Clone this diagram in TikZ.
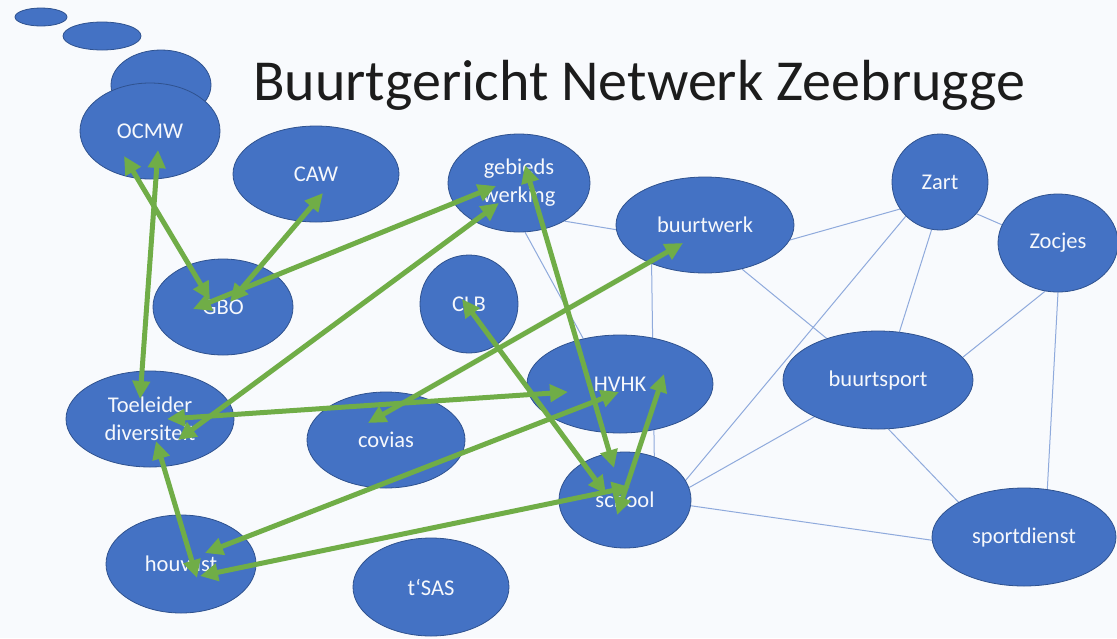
\documentclass[tikz,border=0pt]{standalone}
\usepackage{fontspec}
\setmainfont{Carlito}
\usetikzlibrary{shapes.geometric,arrows.meta}
\definecolor{bg}{RGB}{248,250,253}
\definecolor{nodeblue}{RGB}{68,114,196}
\definecolor{nodeedge}{RGB}{47,82,143}
\definecolor{linkblue}{RGB}{143,170,220}
\definecolor{arrowgreen}{RGB}{112,173,71}
\pgfdeclarelayer{back}
\pgfsetlayers{back,main}
\begin{document}
\begin{tikzpicture}[x=1pt,y=-1pt,
  bubble/.style={ellipse,fill=nodeblue,draw=nodeedge,line width=0.8pt,inner sep=0pt,
    text={rgb,255:red,246;green,248;blue,252},font=\fontsize{22.5}{28}\selectfont,align=center},
  link/.style={draw=linkblue,line width=1pt},
  tie/.style={draw=arrowgreen,line width=5pt,
    {Triangle[length=18pt,width=17pt]}-{Triangle[length=18pt,width=17pt]}}]
\useasboundingbox (0,0) rectangle (1117,638);
% decorative bubbles
\node[bubble,minimum width=52pt,minimum height=18pt] (bub1) at (41,17) {};
\node[bubble,minimum width=78pt,minimum height=28pt] (bub2) at (102,36) {};
\node[bubble,minimum width=100pt,minimum height=70pt] (bub3) at (161,85) {};
% title
\node[anchor=base west,inner sep=0pt,font=\fontsize{58}{62}\selectfont,text={rgb,255:red,28;green,28;blue,28}] (title) at (253,100) {Buurtgericht Netwerk Zeebrugge};
% nodes
\node[bubble,minimum width=140pt,minimum height=96pt] (ocmw) at (150,131) {OCMW};
\node[bubble,minimum width=166pt,minimum height=96pt] (caw) at (316,174) {CAW};
\node[bubble,minimum width=142pt,minimum height=98pt] (geb) at (519,183) {gebieds\\werking};
\node[bubble,minimum width=140pt,minimum height=96pt] (gbo) at (223,307) {GBO};
\node[bubble,minimum width=98pt,minimum height=98pt] (clb) at (469,304) {CLB};
\node[bubble,minimum width=178pt,minimum height=96pt] (bw) at (705,225) {buurtwerk};
\node[bubble,minimum width=96pt,minimum height=96pt] (zart) at (940,182) {Zart};
\node[bubble,minimum width=120pt,minimum height=98pt] (zoc) at (1058,243) {Zocjes};
\node[bubble,minimum width=190pt,minimum height=98pt] (bs) at (878,380) {buurtsport};
\node[bubble,minimum width=184pt,minimum height=98pt] (sd) at (1024,537) {sportdienst};
\node[bubble,minimum width=186pt,minimum height=98pt] (hvhk) at (620,384) {HVHK};
\node[bubble,minimum width=132pt,minimum height=96pt] (school) at (625,500) {school};
\node[bubble,minimum width=168pt,minimum height=96pt] (toe) at (150,419) {Toeleider\\diversiteit};
\node[bubble,minimum width=158pt,minimum height=96pt] (cov) at (386,440) {covias};
\node[bubble,minimum width=150pt,minimum height=98pt] (hou) at (181,564) {houvast};
\node[bubble,minimum width=156pt,minimum height=98pt] (sas) at (431,587) {t‘SAS};
% thin links behind
\begin{pgfonlayer}{back}
\fill[bg] (0,0) rectangle (1117,638);
\draw[link] (geb.-40) -- (bw.183);
\draw[link] (geb.-83) -- (hvhk.129);
\draw[link] (bw.216) -- (school.56);
\draw[link] (bw.-10) -- (zart.214);
\draw[link] (bw.-50) -- (bs.141);
\draw[link] (zart.225) -- (school.18);
\draw[link] (zart.260) -- (bs.66);
\draw[link] (zart.-41) -- (zoc.162);
\draw[link] (zoc.255) -- (bs.15);
\draw[link] (zoc.-90) -- (sd.64);
\draw[link] (bs.-78) -- (sd.152);
\draw[link] (school.-5) -- (sd.182);
\draw[link] (school.11) -- (bs.210);
\end{pgfonlayer}
% arrow end points
\coordinate (ocmwA) at (158,150);
\coordinate (toeA) at (140,399);
\coordinate (ocmwB) at (124,156);
\coordinate (gboB) at (210,300);
\coordinate (cawC) at (323,193);
\coordinate (gboC) at (230,302);
\coordinate (gebD) at (496,186);
\coordinate (gboD) at (193,309);
\coordinate (gebE) at (499,203);
\coordinate (toeE) at (178,440);
\coordinate (hvhkF) at (568,392);
\coordinate (toeF) at (167,419);
\coordinate (bwG) at (683,243);
\coordinate (covG) at (368,423);
\coordinate (hvhkH) at (619,392);
\coordinate (houH) at (205,553);
\coordinate (schoolI) at (630,487);
\coordinate (houI) at (200,576);
\coordinate (toeJ) at (156,441);
\coordinate (houJ) at (197,578);
\coordinate (clbK) at (462,299);
\coordinate (schoolK) at (606,494);
\coordinate (gebL) at (525,165);
\coordinate (schoolL) at (614,468);
\coordinate (hvhkM) at (664,374);
\coordinate (schoolM) at (617,515);
% green arrows
\draw[tie] (ocmwA) -- (toeA);
\draw[tie] (ocmwB) -- (gboB);
\draw[tie] (cawC) -- (gboC);
\draw[tie] (gebD) -- (gboD);
\draw[tie] (gebE) -- (toeE);
\draw[tie] (hvhkF) -- (toeF);
\draw[tie] (bwG) -- (covG);
\draw[tie] (hvhkH) -- (houH);
\draw[tie] (schoolI) -- (houI);
\draw[tie] (toeJ) -- (houJ);
\draw[tie] (clbK) -- (schoolK);
\draw[tie] (gebL) -- (schoolL);
\draw[tie] (hvhkM) -- (schoolM);
\end{tikzpicture}
\end{document}
